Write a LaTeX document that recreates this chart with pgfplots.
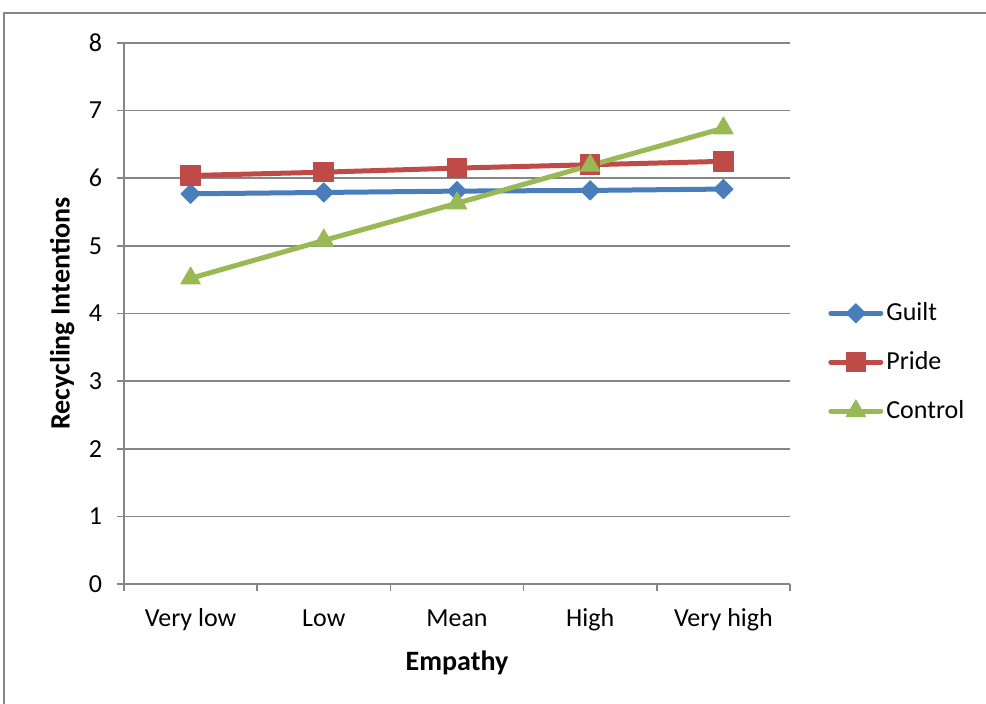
\documentclass[border=0pt]{standalone}
\usepackage{pgfplots}
\pgfplotsset{compat=1.18}
\usepackage{fontspec}
\setmainfont{Carlito}
\definecolor{guilt}{HTML}{4A7EBB}
\definecolor{pride}{HTML}{BE4B48}
\definecolor{control}{HTML}{98B954}
\definecolor{gridgray}{HTML}{868686}
\begin{document}
\fontsize{13bp}{15.6bp}\selectfont
\begin{tikzpicture}
\useasboundingbox (0,0) rectangle (493bp,352bp);
\draw[gridgray, line width=0.8bp] (2bp,0) -- (2bp,345.5bp) -- (493bp,345.5bp);
\begin{axis}[
    at={(62bp,60bp)}, anchor=south west,
    scale only axis, width=333bp, height=270.5bp,
    xmin=-0.5, xmax=4.5, ymin=0, ymax=8,
    axis x line*=bottom, axis y line*=left,
    axis line style={gridgray, line width=0.8bp},
    xtick={0,...,4},
    xticklabels={Very low, Low, Mean, High, Very high},
    minor xtick={-0.5,0.5,1.5,2.5,3.5,4.5},
    ytick={0,...,8},
    tick align=outside,
    major tick length=3.5bp, minor tick length=3.5bp,
    major x tick style={draw=none},
    tick style={gridgray, line width=0.8bp},
    ymajorgrids,
    grid style={gridgray, line width=0.8bp},
    /pgf/number format/assume math mode=true,
    xticklabel style={text height=9.5bp, text depth=3bp, anchor=north, yshift=-3.5bp},
    yticklabel style={xshift=-3bp},
    xlabel={\fontsize{14bp}{16bp}\selectfont\bfseries Empathy},
    ylabel={\fontsize{14bp}{16bp}\selectfont\bfseries Recycling Intentions},
    xlabel style={at={(axis description cs:0.5,-0.145)}, anchor=center},
    ylabel style={at={(axis description cs:-0.093,0.5)}, anchor=center},
    legend style={draw=none, fill=none, at={(1.048,0.41)}, anchor=west,
      row sep=10.5bp, nodes={inner sep=1.5bp}},
    legend cell align=left,
    legend image code/.code={\draw[mark repeat=2, mark phase=2, #1] plot coordinates {(0bp,0bp) (12.5bp,0bp) (25bp,0bp)};},
    every axis plot/.append style={line width=2.5bp, line cap=round, line join=round},
]
\addplot[guilt, mark=square*, mark size=3.4bp, mark options={rotate=45, line width=0.5bp}]
  coordinates {(0,5.77) (1,5.79) (2,5.81) (3,5.82) (4,5.84)};
\addlegendentry{Guilt}
\addplot[pride, mark=square*, mark size=4.9bp, mark options={line width=0.5bp}]
  coordinates {(0,6.04) (1,6.09) (2,6.15) (3,6.20) (4,6.25)};
\addlegendentry{Pride}
\addplot[control, mark=triangle*, mark size=5.6bp, mark options={line width=0.5bp}]
  coordinates {(0,4.52) (1,5.08) (2,5.63) (3,6.19) (4,6.74)};
\addlegendentry{Control}
\end{axis}
\end{tikzpicture}
\end{document}
